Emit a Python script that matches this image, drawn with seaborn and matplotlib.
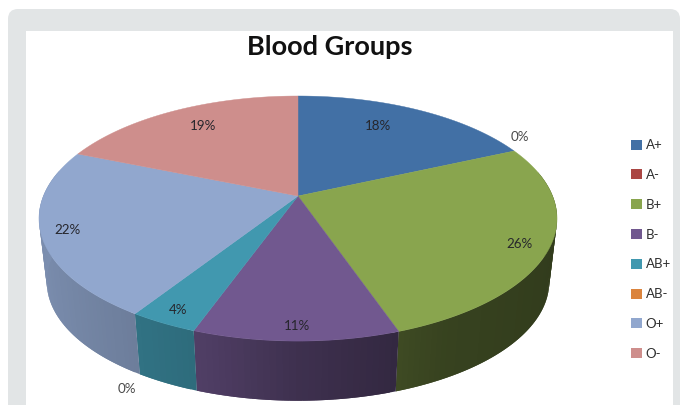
import numpy as np
import pandas as pd
import seaborn as sns
import matplotlib.pyplot as plt
from matplotlib.patches import FancyBboxPatch, Patch, Rectangle

# Blood group shares
groups = ['A+', 'A-', 'B+', 'B-', 'AB+', 'AB-', 'O+', 'O-']
shares = [18.3, 0.0, 26.4, 10.8, 3.6, 0.0, 22.1, 18.8]
colors = ['#4270A5', '#AA4643', '#89A54E', '#71588F', '#4198AF', '#DB843D', '#91A7CE', '#CE8E8C']
title = 'Blood Groups'

blood_df = pd.DataFrame({'group': groups, 'share': shares, 'color': colors})
blood_df['pct'] = blood_df['share'] / blood_df['share'].sum()
blood_df['end'] = blood_df['pct'].cumsum()
blood_df['start'] = blood_df['end'] - blood_df['pct']

sns.set_theme(style='white')
plt.rcParams['font.family'] = ['Lato', 'DejaVu Sans']
palette = sns.color_palette(blood_df['color'].tolist())

# pixel layout of the tilted pie
CX, CY = 298, 196
RX, RY = 254.6, 118.4
TILT = 0.184
WALL_DROP, WALL_SCALE = 64, 0.97


def rim(frac, scale=1.0, drop=0.0):
    # frac runs clockwise from 12 o'clock, simple perspective on the unit circle
    theta = 2 * np.pi * np.asarray(frac)
    u, v = np.sin(theta), -np.cos(theta)
    w = 1 - TILT * v
    return CX + scale * RX * u / w, CY + drop + scale * RY * v / w


def wall_shade(frac):
    # side of the pie is lit from the left
    u = np.sin(2 * np.pi * frac)
    return np.interp(u, [-1, -0.3, 0, 0.5, 1], [0.85, 0.7, 0.55, 0.4, 0.36])


fig = plt.figure(figsize=(6.8, 4.05), dpi=100)
ax = fig.add_axes([0, 0, 1, 1])
ax.set_xlim(0, 680)
ax.set_ylim(405, 0)
ax.axis('off')

# grey card and white chart area
ax.add_patch(FancyBboxPatch((8, 9), 672, 420, boxstyle='round,pad=0,rounding_size=10',
                            fc='#E2E5E6', ec='none', zorder=0))
ax.add_patch(Rectangle((26, 31), 647, 380, fc='white', ec='none', zorder=1))

# walls first, strips overlap the next one so no seams show, then the top face
for row, col in zip(blood_df.itertuples(), palette):
    if row.pct == 0:
        continue
    steps = np.linspace(row.start, row.end, max(int(row.pct * 300), 2) + 1)
    for f0, f1 in zip(steps[:-1], steps[1:]):
        if np.cos(2 * np.pi * (f0 + f1) / 2) > 0.2:
            continue
        f2 = row.end if f1 == steps[-1] else steps[np.searchsorted(steps, f1) + 1]
        x0, y0 = rim([f0, f2])
        x1, y1 = rim([f2, f0], WALL_SCALE, WALL_DROP)
        shade = tuple(c * wall_shade((f0 + f1) / 2) for c in col)
        ax.fill(np.r_[x0, x1], np.r_[y0, y1], color=shade, lw=0, zorder=2)

for row, col in zip(blood_df.itertuples(), palette):
    if row.pct == 0:
        continue
    x, y = rim(np.linspace(row.start, row.end, 120))
    ax.fill(np.r_[CX, x], np.r_[CY, y], color=col, lw=0.3, zorder=3)

# data labels sit where the original chart put them
label_pos = [(378, 126), (520, 137), (519, 244), (297, 326),
             (178, 310), (127, 389), (67, 230), (203, 126)]
for pct, (lx, ly) in zip(blood_df['pct'], label_pos):
    ax.text(lx, ly, f'{pct:.0%}', ha='center', va='center', fontsize=9.6,
            color='#26262C' if pct > 0 else '#4A4A4A', zorder=4)

ax.text(330, 47, title, ha='center', va='center', fontsize=19.5, fontweight='bold',
        color='#111111', zorder=4)

handles = [Patch(fc=c, ec='none', label=g) for c, g in zip(palette, groups)]
ax.legend(handles=handles, loc='center left', bbox_to_anchor=(626, 249.5),
          bbox_transform=ax.transData, frameon=False, fontsize=9.5,
          handlelength=0.8, handleheight=0.8, handletextpad=0.28,
          labelspacing=1.35, labelcolor='#303030', borderpad=0, borderaxespad=0.4)

fig.savefig('out.png', dpi=100)
